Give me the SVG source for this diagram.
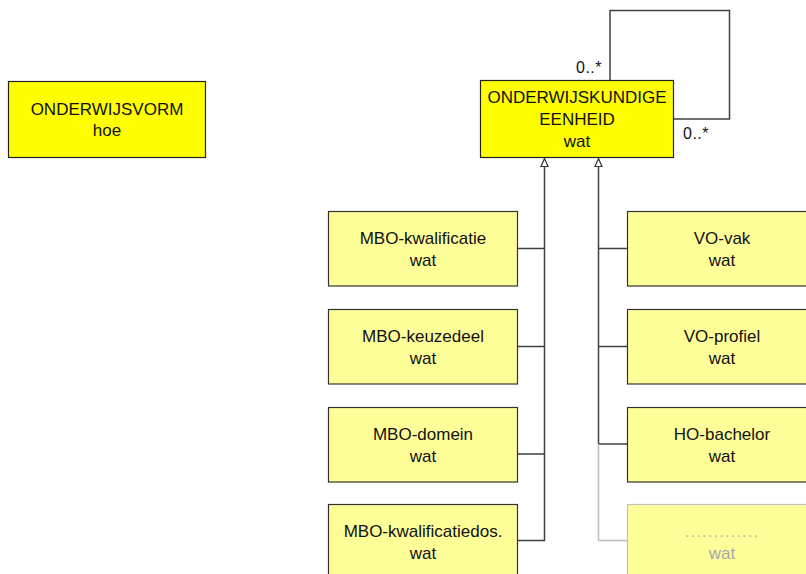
<svg xmlns="http://www.w3.org/2000/svg" width="806" height="574" viewBox="0 0 806 574">
<defs>
<style>
text{font-family:"Liberation Sans",Arial,sans-serif;font-size:17px;fill:#111;text-anchor:middle}
.main{fill:#ffff00;stroke:#222;stroke-width:1.2}
.sub{fill:#ffff99;stroke:#333;stroke-width:1.2}
.faded{fill:#ffff99;stroke:#c0c0c0;stroke-width:1.2}
.ln{fill:none;stroke:#404040;stroke-width:1.5}
.gln{fill:none;stroke:#c0c0c0;stroke-width:1.5}
.mult{font-size:16px;text-anchor:start;letter-spacing:0.5px}
.gt{fill:#a8a8a8}
.dots{fill:#b8b8b8;letter-spacing:1px}
</style>
</defs>
<rect width="806" height="574" fill="#fff"/>
<g id="connectors">
<path class="ln" d="M610,80 V10.5 H729.5 V119 H674"/>
<text class="mult" x="576" y="73">0..*</text>
<text class="mult" x="683" y="139">0..*</text>
<path d="M544.5,158.5 L548,166.5 L541,166.5 Z" fill="#fff" stroke="#333" stroke-width="1.2"/>
<path d="M598.5,158.5 L602,166.5 L595,166.5 Z" fill="#fff" stroke="#333" stroke-width="1.2"/>
<path class="ln" d="M544.5,166.5 V540.5 H518"/>
<path class="ln" d="M518,248.5 H544.5 M518,346.5 H544.5 M518,454 H544.5"/>
<path class="ln" d="M598.5,166.5 V444 H628"/>
<path class="ln" d="M598.5,248.5 H628 M598.5,346.5 H628"/>
<path class="gln" d="M598.5,444 V540.5 H628"/>
</g>
<g id="onderwijsvorm">
<rect class="main" x="8.5" y="81.5" width="197" height="76"/>
<text x="107" y="115">ONDERWIJSVORM</text>
<text x="107" y="136">hoe</text>
</g>
<g id="onderwijskundige-eenheid">
<rect class="main" x="480.5" y="80.5" width="193" height="77"/>
<text x="577" y="103">ONDERWIJSKUNDIGE</text>
<text x="577" y="125">EENHEID</text>
<text x="577" y="147">wat</text>
</g>
<g id="mbo-kwalificatie">
<rect class="sub" x="328.5" y="211.5" width="189" height="74.5"/>
<text x="423" y="244">MBO-kwalificatie</text>
<text x="423" y="266">wat</text>
</g>
<g id="mbo-keuzedeel">
<rect class="sub" x="328.5" y="309.5" width="189" height="74.5"/>
<text x="423" y="342">MBO-keuzedeel</text>
<text x="423" y="364">wat</text>
</g>
<g id="mbo-domein">
<rect class="sub" x="328.5" y="407.5" width="189" height="74.5"/>
<text x="423" y="440">MBO-domein</text>
<text x="423" y="462">wat</text>
</g>
<g id="mbo-kwalificatiedos">
<rect class="sub" x="328.5" y="504.5" width="189" height="80"/>
<text x="423" y="537">MBO-kwalificatiedos.</text>
<text x="423" y="559">wat</text>
</g>
<g id="vo-vak">
<rect class="sub" x="627.5" y="211.5" width="190" height="74.5"/>
<text x="722" y="244">VO-vak</text>
<text x="722" y="266">wat</text>
</g>
<g id="vo-profiel">
<rect class="sub" x="627.5" y="309.5" width="190" height="74.5"/>
<text x="722" y="342">VO-profiel</text>
<text x="722" y="364">wat</text>
</g>
<g id="ho-bachelor">
<rect class="sub" x="627.5" y="407.5" width="190" height="74.5"/>
<text x="722" y="440">HO-bachelor</text>
<text x="722" y="462">wat</text>
</g>
<g id="overig">
<rect class="faded" x="627.5" y="504.5" width="190" height="80"/>
<text class="dots" x="722" y="537">.............</text>
<text class="gt" x="722" y="559">wat</text>
</g>
</svg>
